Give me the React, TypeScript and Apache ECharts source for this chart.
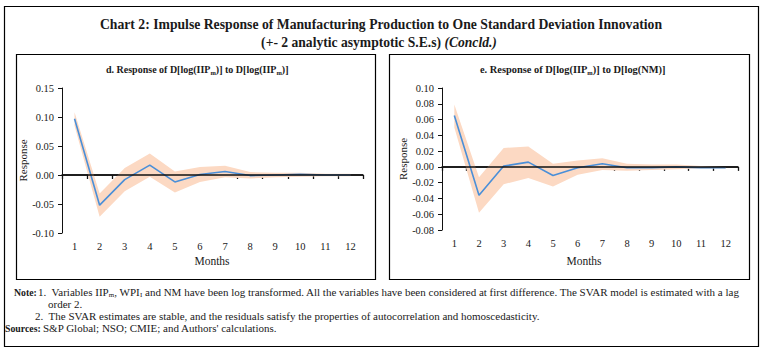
import React, { useEffect, useRef } from 'react';
import * as echarts from 'echarts';

const months = ['1', '2', '3', '4', '5', '6', '7', '8', '9', '10', '11', '12'];

// Panel d: Response of D[log(IIPm)] to D[log(IIPm)]
const respD = [0.097, -0.052, -0.008, 0.017, -0.012, 0.001, 0.006, -0.001, 0.0, 0.001, 0.0, 0.0];
const upperD = [0.108, -0.032, 0.012, 0.037, 0.006, 0.014, 0.016, 0.005, 0.004, 0.004, 0.002, 0.002];
const lowerD = [0.085, -0.072, -0.028, -0.003, -0.03, -0.012, -0.004, -0.006, -0.004, -0.003, -0.002, -0.002];

// Panel e: Response of D[log(IIPm)] to D[log(NM)]
const respE = [0.065, -0.036, 0.001, 0.006, -0.011, -0.001, 0.004, -0.001, -0.001, 0.0, -0.001, -0.001];
const upperE = [0.079, -0.013, 0.024, 0.026, 0.004, 0.008, 0.011, 0.004, 0.003, 0.003, 0.001, 0.0];
const lowerE = [0.05, -0.058, -0.022, -0.014, -0.025, -0.01, -0.004, -0.005, -0.004, -0.003, -0.002, -0.002];

const yTicksD = { min: -0.1, max: 0.15, interval: 0.05 };
const yTicksE = { min: -0.08, max: 0.1, interval: 0.02 };

const FONT = 'Liberation Serif';
const TXT = '#1a1a1a';
const LINE = '#4a8fd8';
const BAND = '#fcd9c3';
const AXIS = '#111111';

const GRID_D = { left: 62, top: 88, width: 301, height: 145 };
const GRID_E = { left: 442, top: 88, width: 296, height: 142 };

function zeroOffset(g: { top: number; height: number }, t: { min: number; max: number }) {
  return -(g.height * t.max) / (t.max - t.min);
}

function bandSeries(lower: number[], upper: number[], idx: number, stack: string) {
  return [
    {
      type: 'line',
      xAxisIndex: idx,
      yAxisIndex: idx,
      data: lower,
      stack,
      stackStrategy: 'all',
      symbol: 'none',
      lineStyle: { opacity: 0 },
      silent: true,
      z: 1,
    },
    {
      type: 'line',
      xAxisIndex: idx,
      yAxisIndex: idx,
      data: upper.map((u, i) => +(u - lower[i]).toFixed(4)),
      stack,
      stackStrategy: 'all',
      symbol: 'none',
      lineStyle: { opacity: 0 },
      areaStyle: { color: BAND, opacity: 1 },
      silent: true,
      z: 1,
    },
  ];
}

function respSeries(data: number[], idx: number) {
  return {
    type: 'line',
    xAxisIndex: idx,
    yAxisIndex: idx,
    data,
    symbol: 'none',
    lineStyle: { color: LINE, width: 1.6 },
    z: 3,
    markLine: {
      silent: true,
      symbol: 'none',
      label: { show: false },
      lineStyle: { color: AXIS, width: 1.5, type: 'solid', opacity: 1 },
      data: [{ yAxis: 0 }],
    },
  };
}

function labelAxis(idx: number) {
  return {
    type: 'category',
    gridIndex: idx,
    position: 'bottom',
    data: months,
    boundaryGap: true,
    axisLine: { show: false, onZero: false },
    axisTick: { show: false },
    axisLabel: { margin: 8, color: TXT, fontFamily: FONT, fontSize: 10.5 },
    splitLine: { show: false },
  };
}

function zeroAxis(idx: number, offset: number) {
  return {
    type: 'category',
    gridIndex: idx,
    position: 'top',
    offset,
    data: months,
    boundaryGap: true,
    axisLine: { show: true, onZero: false, lineStyle: { color: AXIS, width: 1.5, opacity: 1 } },
    axisTick: { show: true, inside: true, length: 4, lineStyle: { color: AXIS, width: 1.3 } },
    axisLabel: { show: false },
    splitLine: { show: false },
  };
}

function yAxis(idx: number, t: { min: number; max: number; interval: number }, nameGap: number) {
  return {
    type: 'value',
    gridIndex: idx,
    min: t.min,
    max: t.max,
    interval: t.interval,
    name: 'Response',
    nameLocation: 'middle',
    nameGap,
    nameTextStyle: { color: TXT, fontFamily: FONT, fontSize: 11 },
    axisLine: { show: true, onZero: false, lineStyle: { color: AXIS, width: 1 } },
    axisTick: { show: true, length: 4, lineStyle: { color: AXIS } },
    axisLabel: {
      color: TXT,
      fontFamily: FONT,
      fontSize: 10.5,
      margin: 8,
      formatter: (v: number) => v.toFixed(2),
    },
    splitLine: { show: false },
  };
}

const subRich = {
  b: { fontFamily: FONT, fontWeight: 'bold', fontSize: 10, lineHeight: 14, fill: TXT },
  s: { fontFamily: FONT, fontWeight: 'bold', fontSize: 6.5, lineHeight: 14, verticalAlign: 'bottom', fill: TXT },
};

const NS = 11;
const noteRich = {
  n: { fontFamily: FONT, fontSize: NS, lineHeight: 13, fill: TXT },
  ns: { fontFamily: FONT, fontSize: 7, lineHeight: 13, verticalAlign: 'bottom', fill: TXT },
};

function note(x: number, y: number, text: string) {
  return {
    type: 'text',
    x,
    y,
    style: { text, verticalAlign: 'middle', rich: noteRich },
  };
}

export default function App() {
  const ref = useRef<HTMLDivElement>(null);

  useEffect(() => {
    if (!ref.current) return;
    const chart = echarts.init(ref.current, null, { renderer: 'svg' });
    chart.setOption({
      animation: false,
      backgroundColor: '#fff',
      grid: [GRID_D, GRID_E],
      xAxis: [
        labelAxis(0),
        labelAxis(1),
        zeroAxis(0, zeroOffset(GRID_D, yTicksD)),
        zeroAxis(1, zeroOffset(GRID_E, yTicksE)),
      ],
      yAxis: [yAxis(0, yTicksD, 31), yAxis(1, yTicksE, 33)],
      series: [
        ...bandSeries(lowerD, upperD, 0, 'bandD'),
        respSeries(respD, 0),
        ...bandSeries(lowerE, upperE, 1, 'bandE'),
        respSeries(respE, 1),
      ],
      graphic: [
        { type: 'rect', shape: { x: 4.5, y: 6.5, width: 754, height: 340 }, style: { fill: 'none', stroke: '#000', lineWidth: 1.2 }, z: 0 },
        { type: 'rect', shape: { x: 16.5, y: 54.5, width: 359, height: 225 }, style: { fill: 'none', stroke: '#000', lineWidth: 1.2 }, z: 0 },
        { type: 'rect', shape: { x: 389.5, y: 54.5, width: 360, height: 225 }, style: { fill: 'none', stroke: '#000', lineWidth: 1.2 }, z: 0 },
        {
          type: 'text',
          x: 381,
          y: 24,
          style: {
            text: 'Chart 2: Impulse Response of Manufacturing Production to One Standard Deviation Innovation',
            fontFamily: FONT,
            fontWeight: 'bold',
            fontSize: 13.7,
            fill: TXT,
            align: 'center',
            verticalAlign: 'middle',
          },
        },
        {
          type: 'text',
          x: 379,
          y: 42,
          style: {
            text: '{a|(+- 2 analytic asymptotic S.E.s) }{i|(Concld.)}',
            align: 'center',
            verticalAlign: 'middle',
            rich: {
              a: { fontFamily: FONT, fontWeight: 'bold', fontSize: 13.6, fill: TXT },
              i: { fontFamily: FONT, fontWeight: 'bold', fontStyle: 'italic', fontSize: 13.6, fill: TXT },
            },
          },
        },
        {
          type: 'text',
          x: 106,
          y: 69,
          style: {
            text: '{b|d. Response of D[log(IIP}{s|m}{b|)] to D[log(IIP}{s|m}{b|)]}',
            verticalAlign: 'middle',
            rich: subRich,
          },
        },
        {
          type: 'text',
          x: 480,
          y: 69,
          style: {
            text: '{b|e. Response of D[log(IIP}{s|m}{b|)] to D[log(NM)]}',
            verticalAlign: 'middle',
            rich: {
              b: { ...subRich.b, fontSize: 10.4 },
              s: subRich.s,
            },
          },
        },
        {
          type: 'text',
          x: 212,
          y: 261,
          style: { text: 'Months', fontFamily: FONT, fontSize: 11.5, fill: TXT, align: 'center', verticalAlign: 'middle' },
        },
        {
          type: 'text',
          x: 584,
          y: 261,
          style: { text: 'Months', fontFamily: FONT, fontSize: 11.5, fill: TXT, align: 'center', verticalAlign: 'middle' },
        },
        {
          type: 'text',
          x: 14,
          y: 292,
          style: { text: 'Note:', fontFamily: FONT, fontSize: 9.8, fontWeight: 'bold', fill: TXT, verticalAlign: 'middle' },
        },
        note(
          38,
          292,
          '{n|1.  Variables IIP}{ns|m}{n|, WPI}{ns|I}{n| and NM have been log transformed. All the variables have been considered at first difference. The SVAR model is estimated with a lag}'
        ),
        note(48, 304, '{n|order 2.}'),
        note(35, 316, '{n|2.  The SVAR estimates are stable, and the residuals satisfy the properties of autocorrelation and homoscedasticity.}'),
        {
          type: 'text',
          x: 5,
          y: 328,
          style: { text: 'Sources:', fontFamily: FONT, fontSize: 9.8, fontWeight: 'bold', fill: TXT, verticalAlign: 'middle' },
        },
        note(43, 328, "{n|S&P Global; NSO; CMIE; and Authors' calculations.}"),
      ],
    });
    return () => chart.dispose();
  }, []);

  return (
    <div
      ref={ref}
      style={{ position: 'absolute', left: 0, top: 0, width: 763, height: 352, background: '#fff' }}
    />
  );
}
